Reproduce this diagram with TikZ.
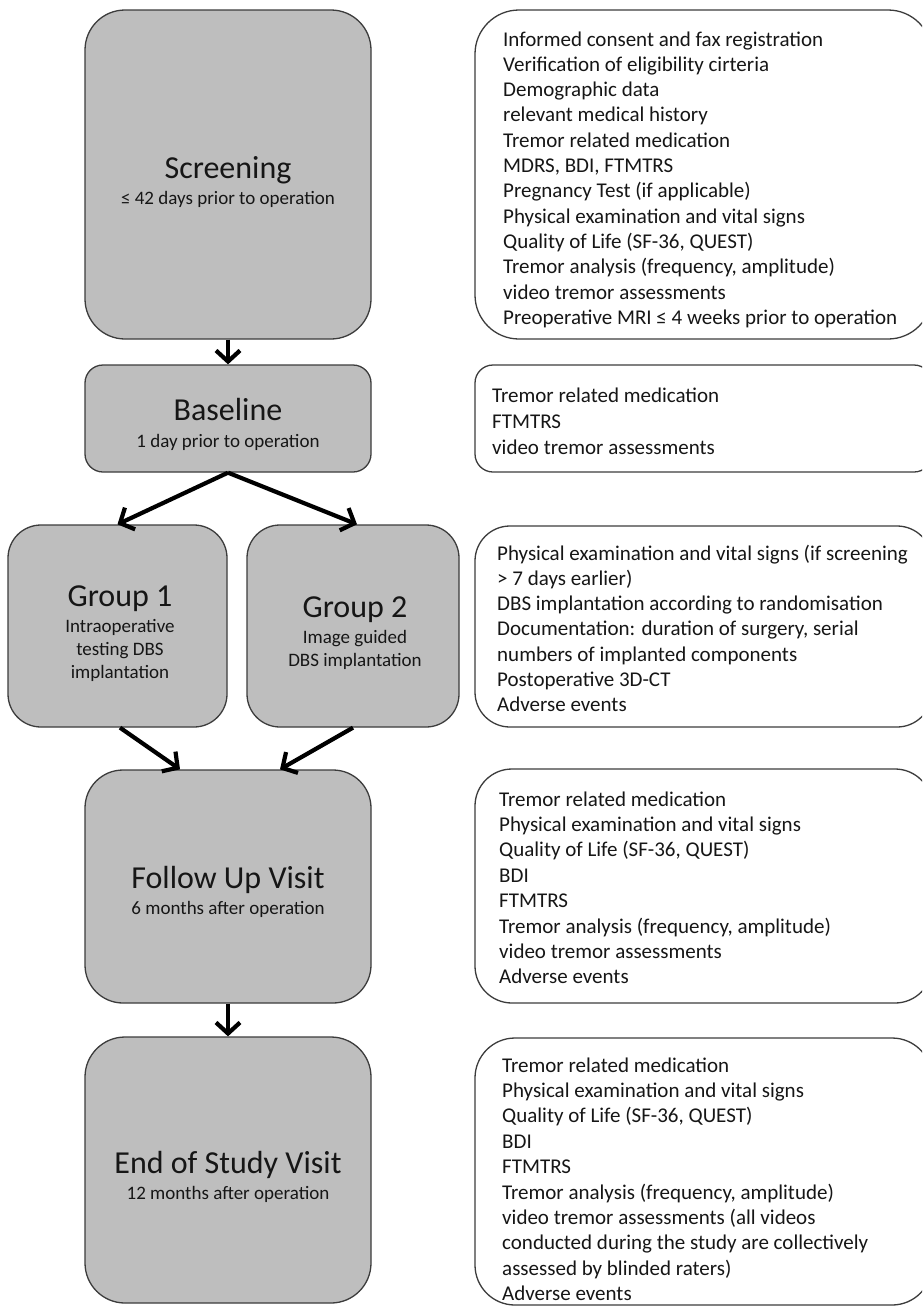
\documentclass[tikz,border=0pt]{standalone}
\usepackage{fontspec}
\setmainfont{Carlito}
\usetikzlibrary{arrows.meta,calc}
\definecolor{boxgray}{RGB}{190,190,190}
\definecolor{edgegray}{RGB}{60,60,60}
\definecolor{ink}{RGB}{22,22,22}
\tikzset{
  phasebox/.style={draw=edgegray, fill=boxgray, line width=1.3pt, rounded corners=#1, inner sep=0pt},
  infobox/.style={draw=edgegray, fill=white, line width=1.3pt, rounded corners=#1, inner sep=0pt},
  ttltext/.style={font=\fontsize{32}{38}\selectfont, text=ink, anchor=base, inner sep=0pt},
  subtext/.style={font=\fontsize{19}{23}\selectfont, text=ink, anchor=base, inner sep=0pt},
  listitem/.style={font=\fontsize{21}{25}\selectfont, text=ink, anchor=base west, inner sep=0pt},
  flow/.style={line width=4.2pt, -{Straight Barb[length=11pt,width=24pt]}},
}
\newcommand\itemlines[5]{%
  \foreach \itemtxt [count=\k from 0] in {#5} {
    \node[listitem] (#1-\k) at (#2, {-(#3+\k*#4)}) {\itemtxt};
  }%
}
\begin{document}
\begin{tikzpicture}[x=1pt,y=1pt]
\useasboundingbox (0,0) rectangle (922,-1312);
\clip (0,0) rectangle (922,-1312);
\fill[white] (0,0) rectangle (922,-1312);

% left column boxes
\node[phasebox=40pt, minimum width=286pt, minimum height=329pt] (scr) at (228,-174.5) {};
\node[phasebox=18pt, minimum width=286pt, minimum height=107pt] (base) at (228,-418.5) {};
\node[phasebox=33pt, minimum width=219pt, minimum height=202pt] (g1) at (117.5,-626) {};
\node[phasebox=33pt, minimum width=212pt, minimum height=202pt] (g2) at (353,-626) {};
\node[phasebox=38pt, minimum width=286pt, minimum height=233pt] (fu) at (228,-886.5) {};
\node[phasebox=40pt, minimum width=286pt, minimum height=266pt] (eos) at (228,-1170) {};

% left column texts
\node[ttltext] (scr-t) at (228,-178) {Screening};
\node[subtext] (scr-s) at (228,-204) {≤ 42 days prior to operation};
\node[ttltext] (base-t) at (228,-420) {Baseline};
\node[subtext] (base-s) at (228,-447) {1 day prior to operation};
\node[ttltext] (g1-t) at (120,-606) {Group 1};
\node[subtext] (g1-s1) at (120,-632) {Intraoperative};
\node[subtext] (g1-s2) at (120,-655) {testing DBS};
\node[subtext] (g1-s3) at (120,-678) {implantation};
\node[ttltext] (g2-t) at (355,-617) {Group 2};
\node[subtext] (g2-s1) at (355,-643) {Image guided};
\node[subtext] (g2-s2) at (355,-666) {DBS implantation};
\node[ttltext] (fu-t) at (228,-888) {Follow Up Visit};
\node[subtext] (fu-s) at (228,-914) {6 months after operation};
\node[ttltext] (eos-t) at (228,-1173) {End of Study Visit};
\node[subtext] (eos-s) at (228,-1199) {12 months after operation};

% connectors
\draw[flow] (scr.south) -- (base.north);
\draw[flow] (base.south) -- (g1.north);
\draw[flow] (base.south) -- ([xshift=4pt]g2.north);
\draw[flow] ([xshift=2.5pt]g1.south) -- ([xshift=-48pt]fu.north);
\draw[flow] (g2.south) -- ([xshift=52pt]fu.north);
\draw[flow] (fu.south) -- (eos.north);

% right column boxes
\node[infobox=44pt, minimum width=457pt, minimum height=329pt] (i1) at (703.5,-174.5) {};
\node[infobox=18pt, minimum width=457pt, minimum height=107pt] (i2) at (703.5,-418.5) {};
\node[infobox=35pt, minimum width=457pt, minimum height=201pt] (i3) at (703.5,-626.5) {};
\node[infobox=37pt, minimum width=457pt, minimum height=234pt] (i4) at (703.5,-886) {};
\node[infobox=40pt, minimum width=457pt, minimum height=267pt] (i5) at (703.5,-1171.5) {};

\itemlines{i1}{503}{46}{25.3}{{Informed consent and fax registration},{Verification of eligibility cirteria},{Demographic data},{relevant medical history},{Tremor related medication},{MDRS, BDI, FTMTRS},{Pregnancy Test (if applicable)},{Physical examination and vital signs},{Quality of Life (SF-36, QUEST)},{Tremor analysis (frequency, amplitude)},{video tremor assessments},{Preoperative MRI ≤ 4 weeks prior to operation}}
\itemlines{i2}{492}{402}{26}{{Tremor related medication},{FTMTRS},{video tremor assessments}}
\itemlines{i3}{497}{560}{25.3}{{Physical examination and vital signs (if screening},{> 7 days earlier)},{DBS implantation according to randomisation},{Documentation: duration of surgery, serial},{numbers of implanted components},{Postoperative 3D-CT},{Adverse events}}
\itemlines{i4}{499}{806}{25.4}{{Tremor related medication},{Physical examination and vital signs},{Quality of Life (SF-36, QUEST)},{BDI},{FTMTRS},{Tremor analysis (frequency, amplitude)},{video tremor assessments},{Adverse events}}
\itemlines{i5}{502}{1072}{25.4}{{Tremor related medication},{Physical examination and vital signs},{Quality of Life (SF-36, QUEST)},{BDI},{FTMTRS},{Tremor analysis (frequency, amplitude)},{video tremor assessments (all videos},{conducted during the study are collectively},{assessed by blinded raters)},{Adverse events}}
\end{tikzpicture}
\end{document}
